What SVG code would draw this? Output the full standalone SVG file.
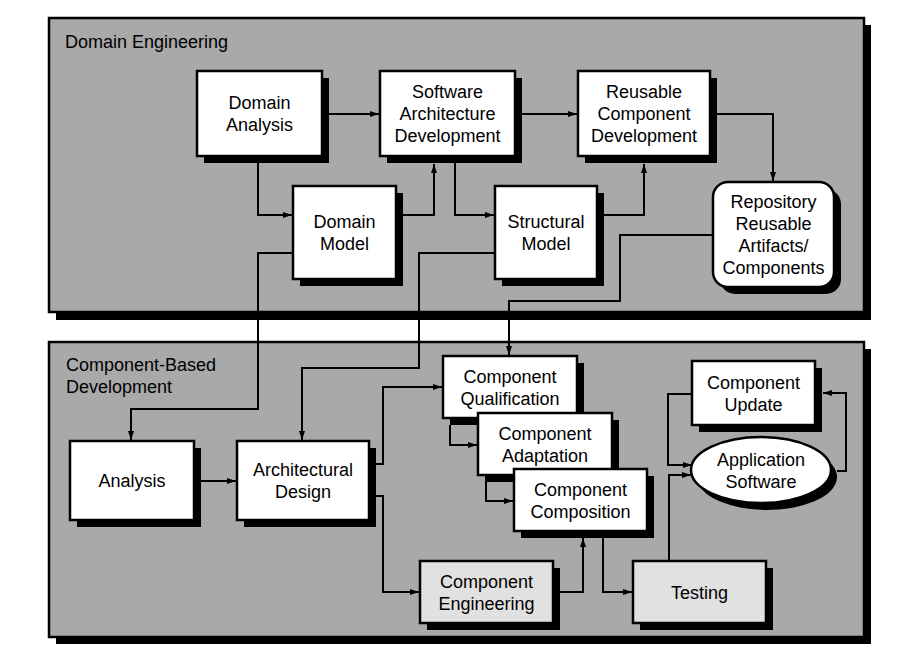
<svg xmlns="http://www.w3.org/2000/svg" width="897" height="662" viewBox="0 0 897 662">
<style>
.panel{fill:#a9a9a9;stroke:#000;stroke-width:2.5}
.shadow{fill:#000}
.box{fill:#fff;stroke:#000;stroke-width:2.5}
.lbox{fill:#e1e1e1;stroke:#000;stroke-width:2.5}
text{font-family:"Liberation Sans",Arial,sans-serif;font-size:18px;fill:#000}
.c{text-anchor:middle}
.conn{fill:none;stroke:#000;stroke-width:2}
</style>
<defs>
<marker id="arr" markerUnits="userSpaceOnUse" markerWidth="9" markerHeight="7" refX="9" refY="3.5" orient="auto">
<path d="M0,0.5 L9,3.5 L0,6.5 Z" fill="#000"/>
</marker>
</defs>
<rect width="897" height="662" fill="#fff"/>
<g id="domain-engineering">
<rect class="shadow" x="56" y="25" width="815" height="295"/>
<rect class="panel" x="49" y="18" width="815" height="294"/>
<text x="65" y="48">Domain Engineering</text>
</g>
<g id="component-based-development">
<rect class="shadow" x="56" y="349" width="815" height="295"/>
<rect class="panel" x="49" y="342" width="815" height="295"/>
<text x="66" y="371">Component-Based</text>
<text x="66" y="393">Development</text>
</g>
<g id="connectors">
<path class="conn" marker-end="url(#arr)" d="M329,114 H379"/>
<path class="conn" marker-end="url(#arr)" d="M258,163 V215 H292"/>
<path class="conn" marker-end="url(#arr)" d="M403,215 H434 V164"/>
<path class="conn" marker-end="url(#arr)" d="M522,114 H577"/>
<path class="conn" marker-end="url(#arr)" d="M455,163 V215 H494"/>
<path class="conn" marker-end="url(#arr)" d="M604,215 H644 V164"/>
<path class="conn" marker-end="url(#arr)" d="M717,114 H773 V181"/>
<path class="conn" marker-end="url(#arr)" d="M293,253 H258 V409 H131 V440"/>
<path class="conn" marker-end="url(#arr)" d="M495,253 H419 V368 H302 V440"/>
<path class="conn" marker-end="url(#arr)" d="M713,235 H620 V301 H509 V355"/>
<path class="conn" marker-end="url(#arr)" d="M201,481 H236"/>
<path class="conn" marker-end="url(#arr)" d="M376,464 H383 V387 H442"/>
<path class="conn" marker-end="url(#arr)" d="M376,496 H383 V592 H419"/>
<path class="conn" marker-end="url(#arr)" d="M450,425 V445 H477"/>
<path class="conn" marker-end="url(#arr)" d="M486,482 V501 H513"/>
<path class="conn" marker-end="url(#arr)" d="M560,592 H583 V538"/>
<path class="conn" marker-end="url(#arr)" d="M603,538 V592 H632"/>
<path class="conn" marker-end="url(#arr)" d="M669,561 V475 H691"/>
<path class="conn" marker-end="url(#arr)" d="M692,394 H668 V465 H692"/>
<path class="conn" marker-end="url(#arr)" d="M837,471 H846 V393 H823"/>
</g>
<g id="domain-analysis">
<rect class="shadow" x="204" y="78" width="125" height="85"/>
<rect class="box" x="197" y="71" width="125" height="85"/>
<text class="c" x="259.5" y="109">Domain</text>
<text class="c" x="259.5" y="131">Analysis</text>
</g>
<g id="software-architecture-development">
<rect class="shadow" x="387" y="78" width="135" height="85"/>
<rect class="box" x="380" y="71" width="135" height="85"/>
<text class="c" x="447.5" y="98">Software</text>
<text class="c" x="447.5" y="120">Architecture</text>
<text class="c" x="447.5" y="142">Development</text>
</g>
<g id="reusable-component-development">
<rect class="shadow" x="585" y="78" width="132" height="85"/>
<rect class="box" x="578" y="71" width="132" height="85"/>
<text class="c" x="644" y="98">Reusable</text>
<text class="c" x="644" y="120">Component</text>
<text class="c" x="644" y="142">Development</text>
</g>
<g id="domain-model">
<rect class="shadow" x="300" y="193" width="103" height="93"/>
<rect class="box" x="293" y="186" width="103" height="93"/>
<text class="c" x="344.5" y="228">Domain</text>
<text class="c" x="344.5" y="250">Model</text>
</g>
<g id="structural-model">
<rect class="shadow" x="502" y="193" width="102" height="93"/>
<rect class="box" x="495" y="186" width="102" height="93"/>
<text class="c" x="546" y="228">Structural</text>
<text class="c" x="546" y="250">Model</text>
</g>
<g id="repository">
<rect class="shadow" x="720" y="189" width="121" height="105" rx="15"/>
<rect class="box" x="713" y="182" width="121" height="105" rx="15"/>
<text class="c" x="773.5" y="208">Repository</text>
<text class="c" x="773.5" y="230">Reusable</text>
<text class="c" x="773.5" y="252">Artifacts/</text>
<text class="c" x="773.5" y="274">Components</text>
</g>
<g id="analysis">
<rect class="shadow" x="77" y="448" width="124" height="79"/>
<rect class="box" x="70" y="441" width="124" height="79"/>
<text class="c" x="132" y="487">Analysis</text>
</g>
<g id="architectural-design">
<rect class="shadow" x="244" y="448" width="132" height="79"/>
<rect class="box" x="237" y="441" width="132" height="79"/>
<text class="c" x="303" y="476">Architectural</text>
<text class="c" x="303" y="498">Design</text>
</g>
<g id="component-qualification">
<rect class="shadow" x="450" y="363" width="134" height="62"/>
<rect class="box" x="443" y="356" width="134" height="62"/>
<text class="c" x="510" y="383">Component</text>
<text class="c" x="510" y="405">Qualification</text>
</g>
<g id="component-adaptation">
<rect class="shadow" x="485" y="420" width="134" height="62"/>
<rect class="box" x="478" y="413" width="134" height="62"/>
<text class="c" x="545" y="440">Component</text>
<text class="c" x="545" y="462">Adaptation</text>
</g>
<g id="component-composition">
<rect class="shadow" x="521" y="476" width="133" height="62"/>
<rect class="box" x="514" y="469" width="133" height="62"/>
<text class="c" x="580.5" y="496">Component</text>
<text class="c" x="580.5" y="518">Composition</text>
</g>
<g id="component-engineering">
<rect class="shadow" x="427" y="568" width="133" height="62"/>
<rect class="lbox" x="420" y="561" width="133" height="62"/>
<text class="c" x="486.5" y="588">Component</text>
<text class="c" x="486.5" y="610">Engineering</text>
</g>
<g id="testing">
<rect class="shadow" x="640" y="568" width="133" height="62"/>
<rect class="lbox" x="633" y="561" width="133" height="62"/>
<text class="c" x="699.5" y="599">Testing</text>
</g>
<g id="component-update">
<rect class="shadow" x="699" y="368" width="123" height="64"/>
<rect class="box" x="692" y="361" width="123" height="64"/>
<text class="c" x="753.5" y="389">Component</text>
<text class="c" x="753.5" y="411">Update</text>
</g>
<g id="application-software">
<ellipse class="shadow" cx="767" cy="477" rx="70" ry="33"/>
<ellipse class="box" cx="761" cy="470" rx="70" ry="33"/>
<text class="c" x="761" y="466">Application</text>
<text class="c" x="761" y="488">Software</text>
</g>
</svg>
